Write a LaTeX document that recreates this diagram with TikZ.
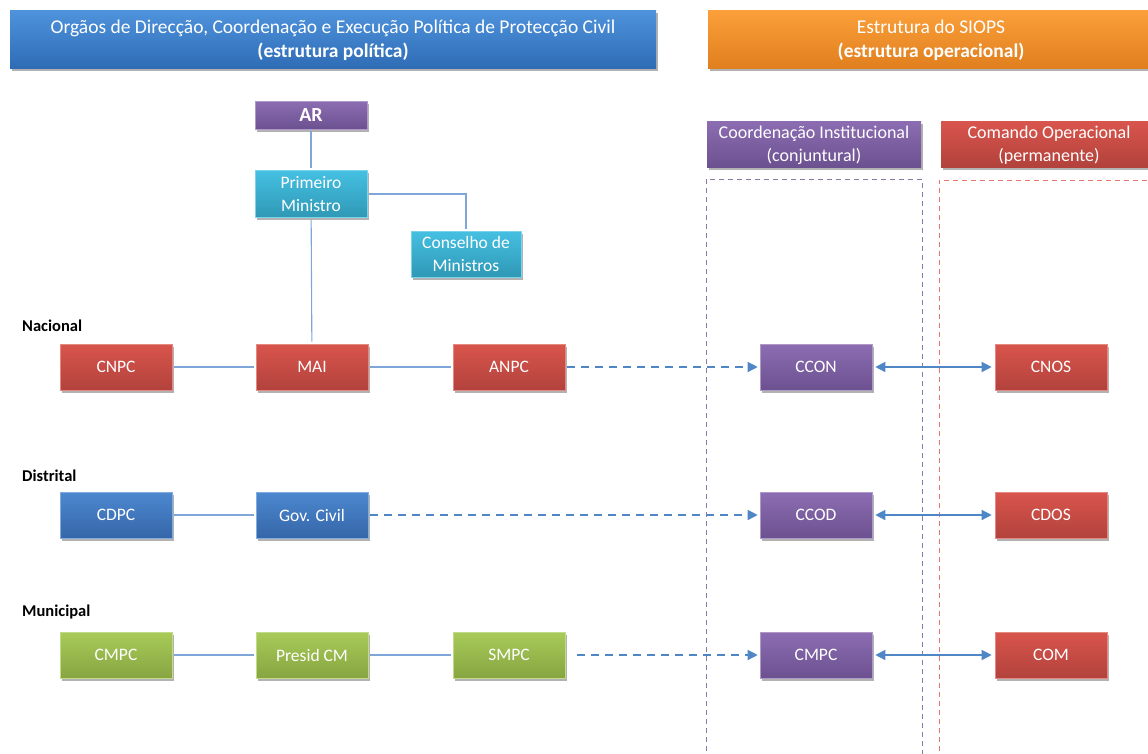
\documentclass[tikz,border=0pt]{standalone}
\usepackage{fontspec}
\setmainfont{Carlito}
\usetikzlibrary{shadows,arrows.meta}
\definecolor{conn}{HTML}{7EA6D8}
\definecolor{arr}{HTML}{4F86C6}
\definecolor{dpurple}{HTML}{8A78A8}
\definecolor{dred}{HTML}{E8736F}
\definecolor{redtop}{HTML}{D9554D}
\definecolor{redbot}{HTML}{B2423C}
\definecolor{purtop}{HTML}{8C6DB2}
\definecolor{purbot}{HTML}{6C5190}
\definecolor{blutop}{HTML}{4C88D0}
\definecolor{blubot}{HTML}{3566A8}
\definecolor{grntop}{HTML}{A8CB58}
\definecolor{grnbot}{HTML}{87A542}
\definecolor{cyatop}{HTML}{45C0E2}
\definecolor{cyabot}{HTML}{2F98B5}
\definecolor{hbltop}{HTML}{4E93DC}
\definecolor{hblbot}{HTML}{2F6CB6}
\definecolor{hortop}{HTML}{FBA03A}
\definecolor{horbot}{HTML}{E07F1E}
\tikzset{
  x=1pt, y=-1pt,
  shd/.style={drop shadow={shadow xshift=1.5pt, shadow yshift=-2.5pt, opacity=0.3, fill=black}},
  box/.style={shd, minimum width=112pt, minimum height=46pt, inner sep=0pt, text=white,
    font=\fontsize{17.5}{23}\selectfont, align=center},
  redbox/.style={box, top color=redtop, bottom color=redbot, draw=redtop!70!white, line width=0.6pt},
  purplebox/.style={box, top color=purtop, bottom color=purbot, draw=purtop!70!white, line width=0.6pt},
  bluebox/.style={box, top color=blutop, bottom color=blubot, draw=blutop!70!white, line width=0.6pt},
  greenbox/.style={box, top color=grntop, bottom color=grnbot, draw=grntop!70!white, line width=0.6pt},
  cyanbox/.style={box, top color=cyatop, bottom color=cyabot, draw=cyatop!70!white, line width=0.6pt},
  lvl/.style={anchor=west, font=\fontsize{16.5}{18}\selectfont\bfseries, inner sep=0pt},
  hdrtext/.style={text=white, align=center, font=\fontsize{19.5}{24}\selectfont, inner sep=0pt},
  link/.style={draw=conn, line width=1.1pt, shorten <=2pt, shorten >=2pt},
  darr/.style={draw=arr, line width=1.4pt, dash pattern=on 8pt off 6pt, -{Triangle[length=10pt,width=10pt]}},
  barr/.style={draw=arr, line width=1.4pt, {Triangle[length=10pt,width=10pt]}-{Triangle[length=10pt,width=10pt]}, shorten <=3pt, shorten >=3pt},
}
\begin{document}
\begin{tikzpicture}
\useasboundingbox (0,0) rectangle (1148,753);
% headers
\fill[shd, top color=hbltop, bottom color=hblbot] (10,10) rectangle (656,68);
\node[hdrtext] (hleft) at (333,40) {Orgãos de Direcção, Coordenação e Execução Política de Protecção Civil\\\textbf{(estrutura política)}};
\fill[shd, top color=hortop, bottom color=horbot] (708,10) rectangle (1160,68);
\node[hdrtext] (hright) at (931,40) {Estrutura do SIOPS\\\textbf{(estrutura operacional)}};
\fill[shd, top color=purtop, bottom color=purbot] (707,121) rectangle (921,167);
\node[hdrtext, font=\fontsize{18}{23}\selectfont] (hcoord) at (814,145) {Coordenação Institucional\\(conjuntural)};
\fill[shd, top color=redtop, bottom color=redbot] (941,121) rectangle (1160,167);
\node[hdrtext, font=\fontsize{18}{23}\selectfont] (hcmd) at (1049,145) {Comando Operacional\\(permanente)};
% dashed columns
\draw[dpurple, line width=0.9pt, dash pattern=on 5pt off 4pt] (706,760) |- (922,179) -- (922,760);
\draw[dred, line width=0.9pt, dash pattern=on 5pt off 4pt] (939,760) |- (1160,180);
% level labels
\node[lvl] (lnac) at (22,326) {Nacional};
\node[lvl] (ldis) at (22,476) {Distrital};
\node[lvl] (lmun) at (22,612) {Municipal};
% top hierarchy
\node[purplebox, minimum height=28pt, font=\fontsize{20}{22}\selectfont\bfseries] (ar) at (311,115) {AR};
\node[cyanbox, minimum height=47pt] (pm) at (311,194) {Primeiro\\Ministro};
\node[cyanbox, minimum width=110pt] (cm) at (466,254) {Conselho de\\Ministros};
% row 1
\node[redbox] (cnpc) at (116,367) {CNPC};
\node[redbox] (mai) at (312,367) {MAI};
\node[redbox] (anpc) at (509,367) {ANPC};
\node[purplebox] (ccon) at (816,367) {CCON};
\node[redbox] (cnos) at (1051,367) {CNOS};
% row 2
\node[bluebox] (cdpc) at (116,515) {CDPC};
\node[bluebox] (gov) at (312,515) {Gov. Civil};
\node[purplebox] (ccod) at (816,515) {CCOD};
\node[redbox] (cdos) at (1051,515) {CDOS};
% row 3
\node[greenbox] (cmpc) at (116,655) {CMPC};
\node[greenbox] (pres) at (312,655) {Presid CM};
\node[greenbox] (smpc) at (509,655) {SMPC};
\node[purplebox] (cmpc2) at (816,655) {CMPC};
\node[redbox] (com) at (1051,655) {COM};
% connectors
\draw[link] (ar) -- (pm);
\draw[link] (pm) -- (mai);
\draw[link] (pm.east) -| (cm.north);
\draw[link] (cnpc) -- (mai);
\draw[link] (mai) -- (anpc);
\draw[link] (cdpc) -- (gov);
\draw[link] (cmpc) -- (pres);
\draw[link] (pres) -- (smpc);
\draw[darr, shorten <=2pt, shorten >=2pt] (anpc) -- (ccon);
\draw[darr, shorten <=2pt, shorten >=2pt] (gov) -- (ccod);
\draw[darr, shorten <=12pt, shorten >=2pt] (smpc) -- (cmpc2);
\draw[barr] (ccon) -- (cnos);
\draw[barr] (ccod) -- (cdos);
\draw[barr] (cmpc2) -- (com);
\end{tikzpicture}
\end{document}
